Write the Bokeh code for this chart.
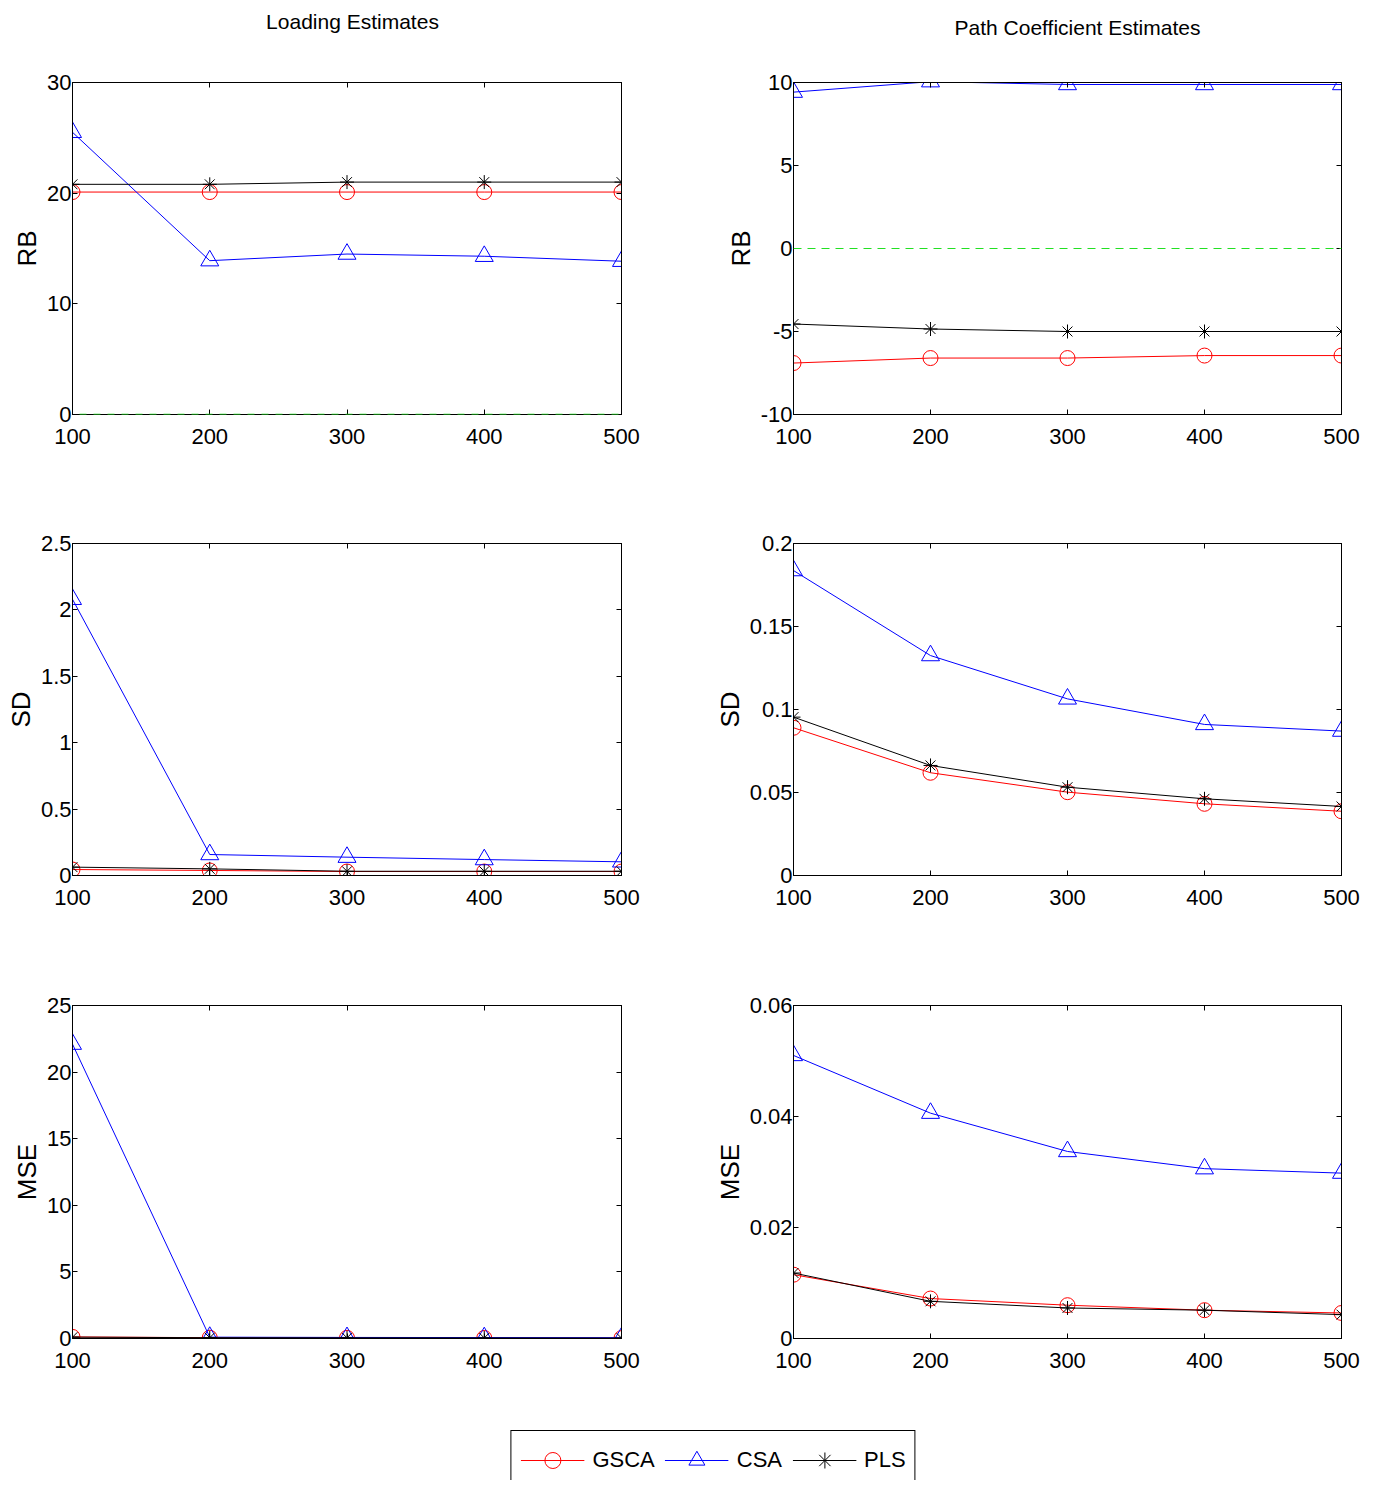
from bokeh.plotting import figure
from bokeh.layouts import column, row
from bokeh.models import (Range1d, FixedTicker, NumeralTickFormatter, LinearAxis,
                          Span, Legend, LegendItem, ColumnDataSource, Label)
from bokeh.embed import file_html
from bokeh.resources import INLINE

# ---------------- data ----------------
n_vals = [100, 200, 300, 400, 500]

load_rb_gsca = [20.1, 20.1, 20.1, 20.1, 20.1]
load_rb_csa = [25.5, 13.9, 14.5, 14.3, 13.85]
load_rb_pls = [20.8, 20.8, 21.0, 21.0, 21.0]

path_rb_gsca = [-6.9, -6.6, -6.6, -6.45, -6.45]
path_rb_csa = [9.42, 10.05, 9.88, 9.88, 9.88]
path_rb_pls = [-4.55, -4.85, -5.0, -5.0, -5.0]

load_sd_gsca = [0.045, 0.038, 0.03, 0.03, 0.03]
load_sd_csa = [2.08, 0.158, 0.138, 0.12, 0.103]
load_sd_pls = [0.063, 0.05, 0.032, 0.032, 0.032]

path_sd_gsca = [0.089, 0.0619, 0.0502, 0.0432, 0.0387]
path_sd_csa = [0.1837, 0.1325, 0.1064, 0.091, 0.087]
path_sd_pls = [0.0954, 0.0663, 0.0532, 0.0462, 0.0416]

load_mse_gsca = [0.12, 0.06, 0.05, 0.04, 0.03]
load_mse_csa = [22.1, 0.1, 0.08, 0.07, 0.06]
load_mse_pls = [0.1, 0.06, 0.05, 0.04, 0.03]

path_mse_gsca = [0.0115, 0.0072, 0.006, 0.0051, 0.0046]
path_mse_csa = [0.051, 0.0406, 0.0337, 0.0306, 0.0298]
path_mse_pls = [0.0118, 0.0067, 0.0055, 0.0051, 0.0043]

x_ticks = [100, 200, 300, 400, 500]
load_rb_ticks = [0, 10, 20, 30]
path_rb_ticks = [-10, -5, 0, 5, 10]
load_sd_ticks = [0, 0.5, 1, 1.5, 2, 2.5]
path_sd_ticks = [0, 0.05, 0.1, 0.15, 0.2]
load_mse_ticks = [0, 5, 10, 15, 20, 25]
path_mse_ticks = [0, 0.02, 0.04, 0.06]

series_names = ["GSCA", "CSA", "PLS"]
col_titles = ["Loading Estimates", "Path Coefficient Estimates"]
row_labels = ["RB", "SD", "MSE"]

# ---------------- styles ----------------
FONT = "Liberation Sans"
RED, BLUE, BLACK, GREEN = "#ff0000", "#0000ff", "#000000", "#22e022"

COLS = [dict(left=72, right=40, fw=549), dict(left=132, right=30, fw=548)]
ROWS = [dict(top=37, bottom=60, fh=332), dict(top=69, bottom=60, fh=332),
        dict(top=70, bottom=60, fh=333)]
STRIP_H = 45
TITLE_POS = [(352, 24), (416, 18)]   # pixel position of each column title inside its strip


def add_series(p, ys, color, marker, size):
    src = ColumnDataSource(dict(x=n_vals, y=ys))
    p.line("x", "y", source=src, line_color=color, line_width=1)
    p.scatter("x", "y", source=src, marker=marker, size=size,
              line_color=color, fill_color=None, line_width=1)


def blank(width, height, left=0, x_range=None):
    f = figure(frame_width=width - left, frame_height=height, min_border_left=left,
               min_border_right=0, min_border_top=0, min_border_bottom=0,
               x_range=x_range if x_range is not None else Range1d(0, width - left),
               y_range=Range1d(0, height),
               output_backend="svg", toolbar_location=None)
    f.axis.visible = False
    f.grid.visible = False
    f.outline_line_color = None
    return f


def panel(ci, ri, yr, yticks, gsca, csa, pls, zero=None):
    c, r = COLS[ci], ROWS[ri]
    p = figure(frame_width=c["fw"], frame_height=r["fh"],
               x_range=Range1d(100, 500), y_range=Range1d(*yr),
               min_border_left=c["left"], min_border_right=c["right"],
               min_border_top=r["top"], min_border_bottom=r["bottom"],
               output_backend="svg", toolbar_location=None)
    p.grid.visible = False
    p.outline_line_color = "black"
    p.outline_line_alpha = 1
    p.background_fill_color = "white"
    p.border_fill_color = "white"

    p.xaxis.ticker = FixedTicker(ticks=x_ticks)
    p.yaxis.ticker = FixedTicker(ticks=yticks)
    p.yaxis.formatter = NumeralTickFormatter(format="0.[00]")
    for ax in (p.xaxis[0], p.yaxis[0]):
        ax.major_tick_in = 5
        ax.major_tick_out = 0
        ax.minor_tick_line_color = None
        ax.axis_line_color = "black"
        ax.major_label_text_font = FONT
        ax.major_label_text_font_size = "22px"
        ax.major_label_text_color = "black"
    p.xaxis.major_label_standoff = 14
    p.yaxis.major_label_standoff = 1
    p.yaxis.axis_label = row_labels[ri]
    p.yaxis.axis_label_text_font = FONT
    p.yaxis.axis_label_text_font_size = "26px"
    p.yaxis.axis_label_text_font_style = "normal"
    p.yaxis.axis_label_text_color = "black"
    p.yaxis.axis_label_standoff = 2

    for loc, tk in (("right", yticks), ("above", x_ticks)):
        ax = LinearAxis(ticker=FixedTicker(ticks=tk), major_tick_in=5, major_tick_out=0,
                        minor_tick_line_color=None, major_label_text_font_size="1px",
                        major_label_text_color=None, major_label_standoff=0,
                        axis_line_color="black")
        p.add_layout(ax, loc)

    if zero == "both":
        p.add_layout(Span(location=0, dimension="width", line_color=BLACK,
                          line_dash="7 7", line_width=1))
        p.add_layout(Span(location=0, dimension="width", line_color=GREEN,
                          line_dash="7 7", line_dash_offset=7, line_width=1.5))
    elif zero == "green":
        p.add_layout(Span(location=0, dimension="width", line_color=GREEN,
                          line_dash="8 6", line_width=1.2))

    add_series(p, gsca, RED, "circle", 15)
    add_series(p, csa, BLUE, "triangle", 18)
    add_series(p, pls, BLACK, "asterisk", 14)
    return p


# ---------------- title strip ----------------
strips = []
for ci, c in enumerate(COLS):
    w = c["left"] + c["fw"] + c["right"]
    s = blank(w, STRIP_H)
    tx, ty = TITLE_POS[ci]
    s.add_layout(Label(x=tx, y=ty, text=col_titles[ci], text_font=FONT,
                       text_font_size="21px", text_color="black",
                       text_align="center", text_baseline="middle"))
    strips.append(s)

f11 = panel(0, 0, (0, 30), load_rb_ticks, load_rb_gsca, load_rb_csa, load_rb_pls, zero="both")
f12 = panel(1, 0, (-10, 10), path_rb_ticks, path_rb_gsca, path_rb_csa, path_rb_pls, zero="green")
f21 = panel(0, 1, (0, 2.5), load_sd_ticks, load_sd_gsca, load_sd_csa, load_sd_pls)
f22 = panel(1, 1, (0, 0.2), path_sd_ticks, path_sd_gsca, path_sd_csa, path_sd_pls)
f31 = panel(0, 2, (0, 25), load_mse_ticks, load_mse_gsca, load_mse_csa, load_mse_pls)
f32 = panel(1, 2, (0, 0.06), path_mse_ticks, path_mse_gsca, path_mse_csa, path_mse_pls)

# ---------------- legend strip ----------------
# the strip's x range keeps the data outside the visible frame, only the legend shows
lg = blank(1371, 82, left=55, x_range=Range1d(0, 1))
items = []
for name, ys, color, marker, size in zip(series_names,
                                         [load_rb_gsca, load_rb_csa, load_rb_pls],
                                         [RED, BLUE, BLACK],
                                         ["circle", "triangle", "asterisk"], [15, 18, 14]):
    src = ColumnDataSource(dict(x=n_vals, y=ys))
    l = lg.line("x", "y", source=src, line_color=color, line_width=1)
    s = lg.scatter("x", "y", source=src, marker=marker, size=size,
                   line_color=color, fill_color=None, line_width=1)
    items.append(LegendItem(label=name, renderers=[l, s]))
leg = Legend(items=items, orientation="horizontal", location="top", margin=32,
             label_text_font=FONT, label_text_font_size="22px", label_text_color="black",
             glyph_width=64, glyph_height=40, label_height=30, label_standoff=8,
             spacing=10, padding=9, border_line_color="black", border_line_alpha=1,
             border_line_width=1, background_fill_color="white", background_fill_alpha=1)
lg.add_layout(leg, "center")

layout = column(row(*strips), row(f11, f12), row(f21, f22), row(f31, f32), lg)
open("out.html", "w").write(file_html(layout, INLINE))
